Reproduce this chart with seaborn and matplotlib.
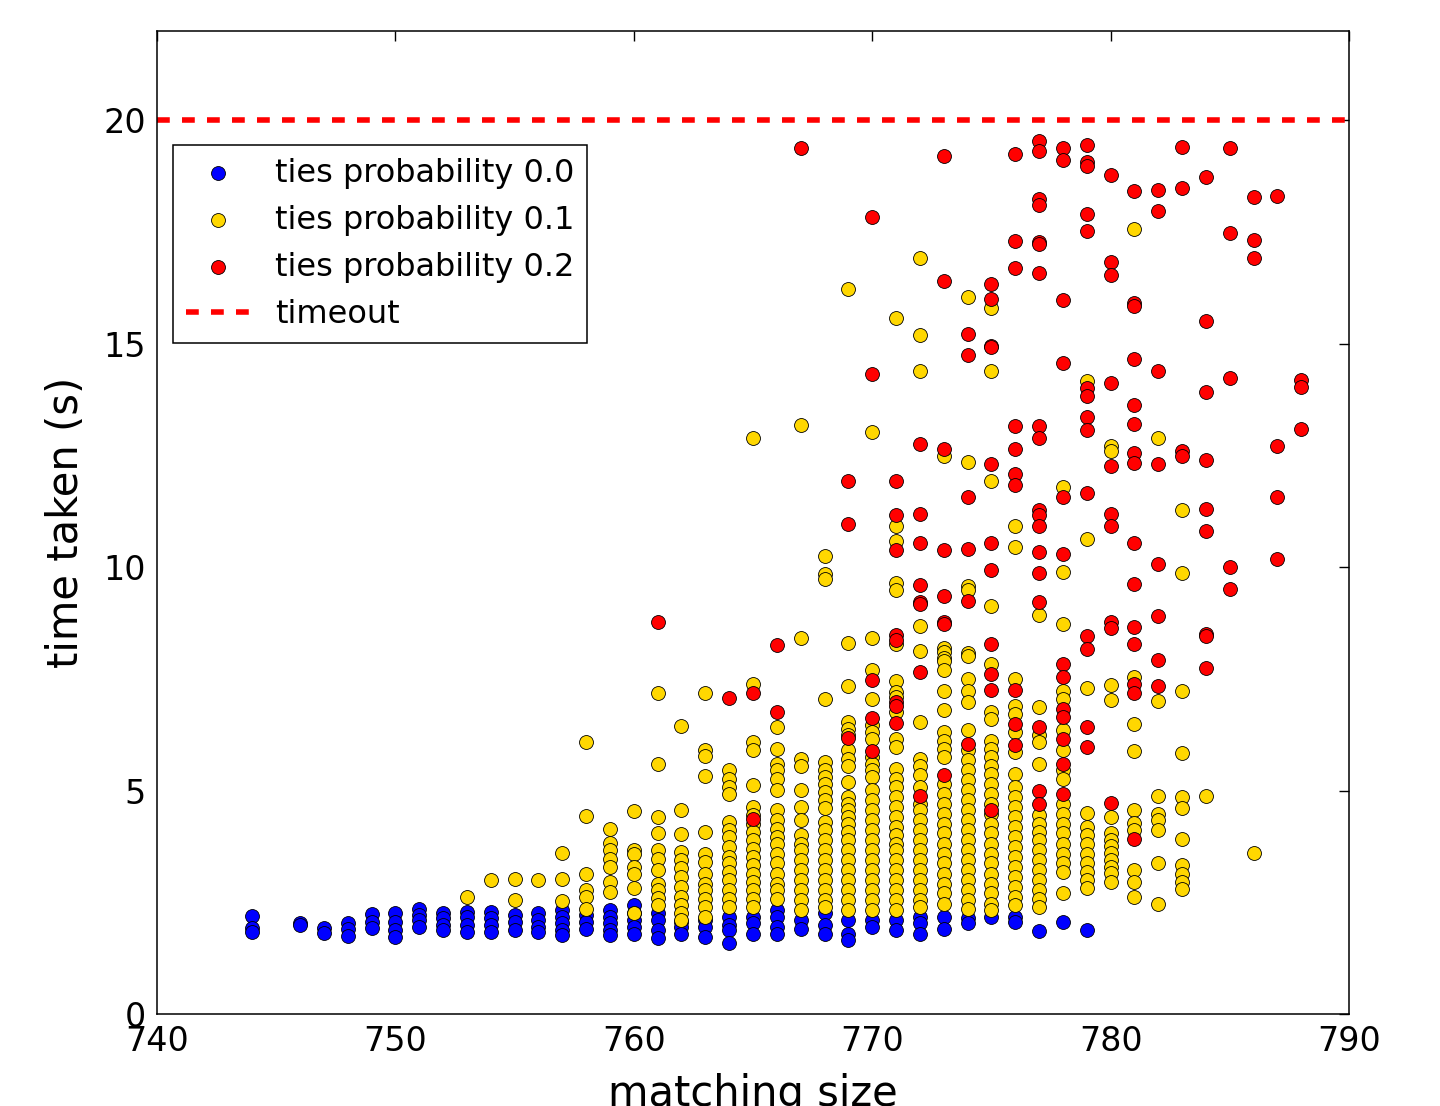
import matplotlib
matplotlib.use("Agg")
import matplotlib.pyplot as plt
import seaborn as sns
import pandas as pd

# ---- data: time taken (s) per matching size, one dict per ties probability ----
blue_times = {
    744: [2.2, 1.92, 1.83], 746: [2.04, 2.0], 747: [1.92, 1.82], 748: [2.03, 1.9, 1.75],
    749: [2.23, 2.06, 1.92], 750: [2.26, 2.06, 1.88, 1.73], 751: [2.36, 2.21, 2.1, 1.95],
    752: [2.25, 2.14, 1.99, 1.88], 753: [2.29, 2.18, 1.99, 1.84], 754: [2.29, 2.14, 1.99, 1.84],
    755: [2.21, 2.06, 1.88], 756: [2.25, 2.1, 1.95, 1.84], 757: [2.33, 2.18, 2.03, 1.88, 1.76],
    758: [2.21, 2.06, 1.91], 759: [2.32, 2.18, 2.03, 1.88, 1.76], 760: [2.44, 2.25, 2.1, 1.95, 1.8],
    761: [2.25, 2.1, 1.88, 1.69], 762: [2.05, 1.95, 1.8], 763: [2.1, 1.95, 1.73],
    764: [2.18, 2.0, 1.88, 1.58], 765: [2.18, 2.03, 1.8], 766: [2.32, 2.18, 1.95, 1.8],
    767: [2.1, 1.91], 768: [2.25, 1.99, 1.8], 769: [2.1, 1.8, 1.65], 770: [2.1, 1.95],
    771: [2.1, 1.88], 772: [2.18, 2.03, 1.8], 773: [2.18, 1.91], 774: [2.14, 2.03],
    775: [2.18], 776: [2.18, 2.06], 777: [1.86], 778: [2.06], 779: [1.89],
}

yellow_times = {
    753: [2.62], 754: [2.99], 755: [3.02, 2.56], 756: [2.99], 757: [3.61, 3.02, 2.53],
    758: [6.09, 4.43, 3.13, 2.77, 2.62, 2.36],
    759: [4.13, 3.83, 3.66, 3.48, 3.29, 2.96, 2.73],
    760: [4.54, 3.68, 3.59, 3.29, 3.14, 2.81, 2.26],
    761: [7.19, 5.6, 4.41, 4.05, 3.66, 3.48, 3.22, 2.92, 2.77, 2.59, 2.44],
    762: [6.44, 4.57, 4.02, 3.63, 3.44, 3.26, 3.07, 2.85, 2.62, 2.44, 2.25, 2.1],
    763: [7.19, 5.9, 5.77, 5.32, 4.07, 3.59, 3.4, 3.14, 2.92, 2.77, 2.58, 2.4, 2.18],
    764: [5.45, 5.27, 5.08, 4.93, 4.3, 4.11, 3.96, 3.74, 3.52, 3.37, 3.18, 2.99, 2.77, 2.58, 2.4],
    765: [12.88, 7.39, 6.09, 5.9, 5.12, 4.63, 4.45, 4.26, 4.07, 3.89, 3.7, 3.52, 3.33, 3.14,
          2.96, 2.77, 2.58, 2.4],
    766: [6.42, 5.94, 5.6, 5.45, 5.27, 5.01, 4.56, 4.34, 4.15, 3.96, 3.81, 3.59, 3.37, 3.14,
          2.92, 2.77, 2.58],
    767: [13.19, 8.41, 5.71, 5.56, 5.01, 4.63, 4.34, 4.0, 3.81, 3.66, 3.44, 3.22, 2.99, 2.77,
          2.55, 2.32],
    768: [10.25, 9.85, 9.74, 7.04, 5.64, 5.45, 5.3, 5.15, 4.97, 4.78, 4.6, 4.3, 4.11, 3.89,
          3.66, 3.44, 3.22, 2.99, 2.77, 2.55, 2.4],
    769: [16.22, 8.31, 7.34, 6.53, 6.38, 6.24, 5.9, 5.71, 5.56, 5.19, 4.86, 4.71, 4.56, 4.41,
          4.26, 4.07, 3.89, 3.66, 3.44, 3.22, 2.99, 2.77, 2.55, 2.32],
    770: [13.02, 8.41, 7.69, 7.05, 6.46, 6.31, 6.16, 5.75, 5.6, 5.45, 5.3, 5.01, 4.78, 4.56,
          4.34, 4.11, 3.89, 3.66, 3.44, 3.22, 2.99, 2.77, 2.55, 2.32],
    771: [15.57, 10.93, 10.58, 9.65, 9.49, 8.29, 7.46, 7.2, 7.09, 6.76, 6.16, 5.97, 5.49, 5.27,
          5.08, 4.86, 4.63, 4.41, 4.19, 4.0, 3.81, 3.66, 3.44, 3.22, 2.99, 2.77, 2.55, 2.32],
    772: [16.91, 15.2, 14.4, 8.68, 8.13, 6.53, 5.71, 5.56, 5.34, 5.08, 4.71, 4.56, 4.34, 4.11,
          3.89, 3.66, 3.44, 3.22, 2.99, 2.77, 2.55, 2.4],
    773: [12.48, 8.2, 8.1, 7.97, 7.91, 7.69, 7.24, 6.81, 6.31, 6.12, 5.94, 5.75, 5.15, 4.93,
          4.71, 4.48, 4.26, 4.04, 3.81, 3.59, 3.37, 3.14, 2.92, 2.7, 2.47],
    774: [16.05, 12.36, 9.57, 9.49, 8.09, 8.02, 7.5, 7.24, 6.98, 6.35, 5.9, 5.68, 5.45, 5.23,
          5.01, 4.78, 4.56, 4.34, 4.11, 3.89, 3.66, 3.44, 3.22, 2.99, 2.77, 2.55, 2.36],
    775: [15.81, 14.4, 11.93, 9.13, 7.84, 6.76, 6.61, 6.12, 5.94, 5.75, 5.56, 5.38, 5.15, 4.93,
          4.71, 4.48, 4.26, 4.04, 3.81, 3.59, 3.37, 3.14, 2.92, 2.7, 2.47, 2.32],
    776: [10.93, 10.45, 7.5, 6.9, 6.72, 6.31, 5.86, 5.38, 5.08, 4.86, 4.63, 4.41, 4.19, 3.96,
          3.74, 3.52, 3.29, 3.07, 2.85, 2.62, 2.44],
    777: [8.93, 6.88, 6.24, 6.09, 5.6, 4.45, 4.26, 4.07, 3.89, 3.66, 3.44, 3.22, 2.99, 2.77,
          2.58, 2.4],
    778: [11.8, 9.89, 8.73, 7.24, 7.05, 6.35, 5.9, 5.45, 5.27, 4.71, 4.48, 4.26, 4.04, 3.81,
          3.59, 3.37, 3.18, 2.7],
    779: [14.16, 10.62, 7.3, 4.5, 4.19, 4.0, 3.81, 3.59, 3.37, 3.18, 2.99, 2.81],
    780: [12.72, 12.6, 7.36, 7.02, 4.41, 4.04, 3.9, 3.75, 3.6, 3.45, 3.3, 3.15, 2.96],
    781: [17.57, 7.54, 6.5, 5.88, 4.57, 4.27, 4.11, 3.23, 2.96, 2.61],
    782: [12.88, 7.0, 4.88, 4.48, 4.35, 4.12, 3.38, 2.47],
    783: [11.27, 9.87, 7.22, 5.84, 4.86, 4.62, 3.92, 3.33, 3.13, 2.96, 2.79],
    784: [4.88], 786: [3.61],
}

red_times = {
    761: [8.77], 764: [7.08], 765: [7.18, 4.36], 766: [8.25, 6.77], 767: [19.38],
    769: [11.92, 10.97, 6.18], 770: [17.83, 14.33, 7.48, 6.63, 5.88],
    771: [11.92, 11.17, 10.38, 8.49, 8.37, 6.98, 6.9, 6.51],
    772: [12.75, 11.2, 10.54, 9.6, 9.21, 9.17, 7.66, 4.88],
    773: [19.21, 16.4, 12.64, 10.38, 9.35, 8.77, 8.73, 5.36],
    774: [15.22, 14.74, 11.58, 10.41, 9.25, 6.05],
    775: [16.33, 16.0, 14.96, 14.92, 12.3, 10.54, 9.93, 8.29, 7.6, 7.25, 4.57],
    776: [19.24, 17.29, 16.7, 13.16, 12.64, 12.08, 11.85, 7.25, 6.5, 6.01],
    777: [19.53, 19.31, 18.23, 18.11, 17.27, 17.23, 16.59, 13.16, 12.88, 11.29, 11.17, 10.93,
          10.35, 9.87, 9.21, 6.42, 5.0, 4.71],
    778: [19.39, 19.11, 15.98, 14.58, 11.58, 10.3, 7.84, 7.54, 6.83, 6.64, 6.16, 5.6, 4.92],
    779: [19.45, 19.07, 18.97, 17.9, 17.53, 14.0, 13.82, 13.36, 13.07, 11.66, 8.45, 8.17,
          6.42, 5.97],
    780: [18.77, 16.82, 16.55, 14.12, 12.26, 11.2, 10.93, 8.77, 8.65, 4.72],
    781: [18.41, 15.92, 15.84, 14.66, 13.64, 13.2, 12.55, 12.34, 10.55, 9.63, 8.67, 8.29,
          7.39, 7.18, 3.92],
    782: [18.45, 17.97, 14.4, 12.3, 10.07, 8.9, 7.93, 7.33],
    783: [19.41, 18.49, 12.6, 12.48],
    784: [18.73, 15.5, 13.91, 12.4, 11.31, 10.82, 8.5, 8.46, 7.74],
    785: [19.39, 17.49, 14.23, 10.01, 9.52],
    786: [18.29, 17.33, 16.91],
    787: [18.31, 12.72, 11.58, 10.18],
    788: [14.2, 14.04, 13.1],
}

series_labels = ["ties probability 0.0", "ties probability 0.1", "ties probability 0.2"]
series_colors = ["#0000ff", "#ffd700", "#ff0000"]
timeout_value = 20
x_ticks = [740, 750, 760, 770, 780, 790]
y_ticks = [0, 5, 10, 15, 20]


def to_frame(d):
    rows = [(k, v) for k, vals in d.items() for v in vals]
    return pd.DataFrame(rows, columns=["matching size", "time taken (s)"])


sns.set_theme(style="white")
plt.rcParams["font.family"] = ["DejaVu Sans"]
plt.rcParams["text.color"] = "black"
plt.rcParams["axes.labelcolor"] = "black"
plt.rcParams["xtick.color"] = "black"
plt.rcParams["ytick.color"] = "black"

fig = plt.figure(figsize=(14.4, 11.06), dpi=100)
ax = fig.add_axes([157 / 1440, 92 / 1106, 1192 / 1440, 983 / 1106])

for d, lab, col in zip([blue_times, yellow_times, red_times], series_labels, series_colors):
    df = to_frame(d)
    sns.scatterplot(data=df, x="matching size", y="time taken (s)", ax=ax, color=col,
                    s=100, edgecolor="black", linewidth=0.6, label=lab, legend=False)

ax.axhline(timeout_value, color="red", lw=4, ls=(0, (2.3, 2.2)), label="timeout")

ax.set_xlim(740, 790)
ax.set_ylim(0, 22)
ax.set_xticks(x_ticks)
ax.set_yticks(y_ticks)
ax.set_xlabel("matching size", fontsize=30, labelpad=11)
ax.set_ylabel("time taken (s)", fontsize=30, labelpad=12)
ax.tick_params(direction="in", top=True, right=True, length=7, width=1,
               labelsize=24, labelcolor="black", pad=8)
for sp in ax.spines.values():
    sp.set_color("black")
    sp.set_linewidth(1.1)

handles, labels = ax.get_legend_handles_labels()
leg = ax.legend(handles, labels, loc="upper left", bbox_to_anchor=(0.0134, 0.884),
                borderaxespad=0, fontsize=23, scatterpoints=1, fancybox=False,
                frameon=True, edgecolor="black", framealpha=1, labelspacing=0.5)
leg.get_frame().set_linewidth(1.1)
for t in leg.get_texts():
    t.set_color("black")

fig.savefig("out.png", dpi=100)
